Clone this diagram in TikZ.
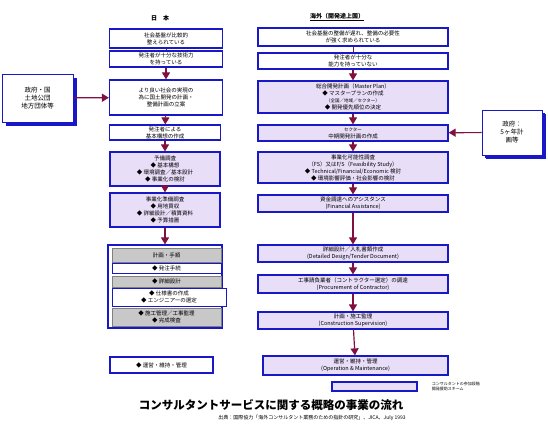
\documentclass[tikz,border=0pt]{standalone}
\usepackage{fontspec}
\setmainfont{Noto Sans CJK JP}
\usetikzlibrary{arrows.meta, positioning, shadows}
\definecolor{boxblue}{RGB}{24, 24, 200}
\definecolor{stagelilac}{RGB}{232, 222, 248}
\definecolor{arrowred}{RGB}{128, 16, 64}
\definecolor{subgray}{RGB}{200, 200, 200}

\begin{document}
\begin{tikzpicture}[
  x=1pt, y=-1pt,
  box/.style={rectangle, draw=boxblue, line width=1.2pt, fill=white, inner sep=0pt, align=center, font=\fontsize{5.5}{7}\selectfont},
  stage/.style={box, fill=stagelilac},
  subbox/.style={rectangle, draw=gray, line width=0.4pt, fill=subgray, inner sep=0pt, align=center, font=\fontsize{5.5}{7}\selectfont},
  sidebox/.style={rectangle, draw=boxblue, line width=0.6pt, fill=white, inner sep=0pt, align=center, font=\fontsize{6.5}{8}\selectfont, drop shadow={shadow xshift=4pt, shadow yshift=-4pt, fill=boxblue, opacity=1}},
  flow/.style={-{Triangle[length=7pt, width=8pt]}, arrowred, line width=1.2pt},
  link/.style={arrowred, line width=0.6pt},
]
  \useasboundingbox (0,0) rectangle (548,430);

  % column headers
  \node[font=\fontsize{6}{7}\selectfont\bfseries] (jphead) at (160,18) {日\quad 本};
  \node[font=\fontsize{6}{7}\selectfont\bfseries] (ovhead) at (337,17) {\underline{海外（開発途上国）}};

  % Japan column
  \node[box, minimum width=113pt, minimum height=19pt] (jp1) at (166,38.5) {社会基盤が比較的\\整えられている};
  \node[box, minimum width=113pt, minimum height=16pt] (jp2) at (166,59) {発注者が十分な技術力\\を持っている};
  \node[box, minimum width=113pt, minimum height=35pt] (jp3) at (166,97.5) {より良い社会の実現の\\為に国土開発の計画・\\整備計画の立案};
  \node[box, minimum width=111pt, minimum height=15pt] (jp4) at (165,132.5) {発注者による\\基本構想の作成};
  \node[stage, minimum width=110pt, minimum height=34pt] (jp5) at (165,169) {予備調査\\◆ 基本構想\\◆ 環境調査／基本設計\\◆ 事業化の検討};
  \node[stage, minimum width=110pt, minimum height=34pt] (jp6) at (165,210) {事業化準備調査\\◆ 用地買収\\◆ 詳細設計／積算資料\\◆ 予算措置};

  % works group
  \node[box, minimum width=114pt, minimum height=83pt] (plan) at (165,286.5) {};
  \node[subbox, minimum width=109pt, minimum height=14pt] (plan1) at (166.5,255) {計画・手順};
  \node[rectangle, draw=boxblue, line width=0.4pt, fill=white, inner sep=0pt, font=\fontsize{5.5}{7}\selectfont, minimum width=109pt, minimum height=10pt] (plan2) at (166.5,268) {◆ 発注手続};
  \node[subbox, minimum width=109pt, minimum height=11pt] (plan3) at (166.5,281.5) {◆ 詳細設計};
  \node[rectangle, draw=boxblue, line width=0.4pt, fill=white, inner sep=0pt, align=center, font=\fontsize{5.5}{7}\selectfont, minimum width=114pt, minimum height=18pt] (plan4) at (169,297) {◆ 仕様書の作成\\◆ エンジニアーの選定};
  \node[subbox, minimum width=109pt, minimum height=18pt] (plan5) at (166.5,317) {◆ 施工管理／工事監理\\◆ 完成検査};

  \node[box, minimum width=103pt, minimum height=16pt] (jp8) at (161.5,365) {◆ 運営・維持・管理};

  % overseas column
  \node[box, minimum width=190pt, minimum height=18pt] (ov1) at (353,37) {社会基盤の整備が遅れ、整備の必要性\\が強く求められている};
  \node[box, minimum width=190pt, minimum height=16pt] (ov2) at (353,61) {発注者が十分な\\能力を持っていない};
  \node[stage, minimum width=190pt, minimum height=32pt] (ov3) at (353,97) {総合開発計画（Master Plan）\\◆ マスタープランの作成\\{\fontsize{4.5}{6}\selectfont（全国／地域／セクター）}\\◆ 開発優先順位の決定};
  \node[stage, minimum width=190pt, minimum height=16pt] (ov4) at (353,133) {{\fontsize{4.5}{6}\selectfont セクター}\\中期開発計画の作成};
  \node[stage, minimum width=190pt, minimum height=31pt] (ov5) at (353,167.5) {事業化可能性調査\\（FS）又はF/S（Feasibility Study）\\◆ Technical/Financial/Economic 検討\\◆ 環境影響評価・社会影響の検討};
  \node[stage, minimum width=190pt, minimum height=17pt] (ov6) at (353,203.5) {資金調達へのアシスタンス\\(Financial Assistance)};
  \node[stage, minimum width=190pt, minimum height=17pt] (ov7) at (353,253.5) {詳細設計／入札書類作成\\(Detailed Design/Tender Document)};
  \node[stage, minimum width=190pt, minimum height=18pt] (ov8) at (353,284) {工事請負業者（コントラクター選定）の調達\\(Procurement of Contractor)};
  \node[stage, minimum width=190pt, minimum height=17pt] (ov9) at (353,320.5) {計画・施工監理\\(Construction Supervision)};
  \node[stage, minimum width=185pt, minimum height=19pt] (ov10) at (355.5,365.5) {運営・維持・管理\\(Operation \& Maintenance)};

  % side boxes
  \node[sidebox, minimum width=71pt, minimum height=48pt] (govjp) at (37.5,98) {政府・国\\土地公団\\地方団体等};
  \node[sidebox, minimum width=60pt, minimum height=45pt, drop shadow={shadow xshift=3pt, shadow yshift=-3pt, fill=boxblue, opacity=1}] (govov) at (512,132.5) {政府：\\5ヶ年計\\画等};

  % connectors
  \draw[link] (jp1) -- (jp2);
  \draw[flow] (jp2) -- (jp3);
  \draw[flow] (jp3) -- (jp4);
  \draw[flow] (jp4) -- (jp5);
  \draw[flow] (jp5) -- (jp6);
  \draw[flow] (jp6) -- (plan);
  \draw[link] (ov1) -- (ov2);
  \draw[flow] (ov2) -- (ov3);
  \draw[flow] (ov3) -- (ov4);
  \draw[flow] (ov4) -- (ov5);
  \draw[flow] (ov5) -- (ov6);
  \draw[flow] (ov6) -- (ov7);
  \draw[flow] (ov7) -- (ov8);
  \draw[flow] (ov8) -- (ov9);
  \draw[flow] (ov9) -- (ov10);
  \draw[flow] (govjp) -- (jp3);
  \draw[flow] (govov) -- (ov4);

  % legend
  \node[stage, minimum width=85pt, minimum height=9pt] (legend) at (374.5,386.5) {};
  \node[right=14pt of legend, font=\fontsize{4}{5}\selectfont, align=left, inner sep=0pt] (legendtext) {コンサルタントの参加段階\\開発援助スキーム};

  % title
  \node[font=\fontsize{11.5}{13}\selectfont\bfseries] (title) at (271,405) {コンサルタントサービスに関する概略の事業の流れ};
  \node[font=\fontsize{5}{6}\selectfont] (source) at (312,418) {出典：国際協力「海外コンサルタント業務のための指針の研究」、JICA、July 1993};
\end{tikzpicture}
\end{document}
